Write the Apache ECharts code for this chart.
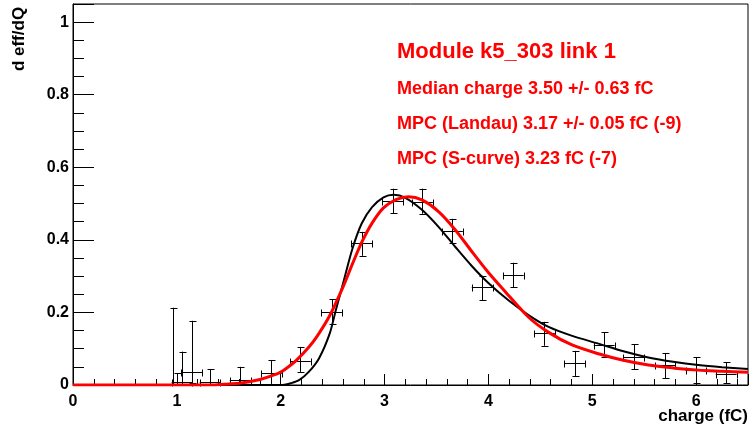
<!DOCTYPE html>
<html>
<head>
<meta charset="utf-8">
<script src="https://cdn.jsdelivr.net/npm/echarts@6/dist/echarts.min.js"></script>
<style>
html,body{margin:0;padding:0;background:#fff;}
#chart{width:751px;height:430px;}
</style>
</head>
<body>
<div id="chart"></div>
<script>
// ---- data ----
const xTickLabels = [0, 1, 2, 3, 4, 5, 6];
const yTickLabels = [0, 0.2, 0.4, 0.6, 0.8, 1];

// measured points (charge, d eff/dQ) with error bounds
const ptX    = [0.964, 1.003, 1.05, 1.144, 1.32, 1.61, 1.91, 2.19, 2.49, 2.78, 3.08, 3.365, 3.654, 3.94, 4.24, 4.54, 4.83, 5.115, 5.40, 5.70, 6.00, 6.29];
const ptXErr = [0, 0, 0.1, 0.1, 0.1, 0.1, 0.1, 0.1, 0.1, 0.1, 0.1, 0.1, 0.1, 0.1, 0.1, 0.1, 0.1, 0.1, 0.1, 0.1, 0.1, 0.1];
const ptY    = [0.003, 0.004, 0.008, 0.035, 0.009, 0.014, 0.034, 0.066, 0.200, 0.392, 0.508, 0.505, 0.425, 0.270, 0.303, 0.143, 0.060, 0.110, 0.077, 0.055, 0.041, 0.030];
const ptYLo  = [0, 0, 0, 0.005, 0, 0.003, 0.003, 0.036, 0.168, 0.356, 0.474, 0.472, 0.392, 0.234, 0.270, 0.108, 0.025, 0.077, 0.044, 0.019, 0.005, 0.005];
const ptYHi  = [0.213, 0.033, 0.092, 0.177, 0.044, 0.050, 0.069, 0.105, 0.237, 0.422, 0.541, 0.541, 0.458, 0.301, 0.337, 0.174, 0.094, 0.146, 0.113, 0.088, 0.077, 0.063];

// black fit curve
const blackX = [0, 1.9, 2.02, 2.1, 2.18, 2.27, 2.37, 2.47, 2.53, 2.61, 2.69, 2.78, 2.88, 2.99, 3.09, 3.2, 3.36, 3.52, 3.68, 3.84, 4.0, 4.19, 4.39, 4.58, 4.8, 5.06, 5.3, 5.54, 5.78, 6.02, 6.25, 6.5];
const blackY = [0, 0, 0, 0.005, 0.014, 0.036, 0.074, 0.14, 0.205, 0.29, 0.375, 0.445, 0.49, 0.517, 0.524, 0.516, 0.483, 0.436, 0.381, 0.328, 0.281, 0.234, 0.192, 0.16, 0.136, 0.114, 0.093, 0.076, 0.064, 0.055, 0.049, 0.044];

// red fit curve
const redX = [0, 1.35, 1.5, 1.6, 1.7, 1.8, 1.91, 1.99, 2.05, 2.15, 2.27, 2.35, 2.47, 2.6, 2.69, 2.78, 2.88, 2.99, 3.11, 3.23, 3.36, 3.52, 3.68, 3.84, 4.0, 4.16, 4.39, 4.58, 4.8, 5.06, 5.3, 5.54, 5.78, 6.02, 6.25, 6.5];
const redY = [0, 0, 0.003, 0.005, 0.009, 0.015, 0.025, 0.034, 0.045, 0.068, 0.104, 0.134, 0.19, 0.27, 0.333, 0.393, 0.446, 0.488, 0.511, 0.519, 0.51, 0.478, 0.428, 0.368, 0.31, 0.258, 0.186, 0.145, 0.111, 0.086, 0.068, 0.055, 0.047, 0.041, 0.038, 0.035];

const infoTitle = 'Module k5_303 link 1';
const infoLines = ['Median charge 3.50 +/- 0.63 fC', 'MPC (Landau) 3.17 +/- 0.05 fC (-9)', 'MPC (S-curve) 3.23 fC (-7)'];
const xName = 'charge (fC)';
const yName = 'd eff/dQ';

// ---- chart ----
const FONT = '"Liberation Sans", Arial, sans-serif';
const chart = echarts.init(document.getElementById('chart'), null, {renderer: 'canvas'});

const errData = ptX.map((x, i) => [x, ptY[i], ptXErr[i], ptYLo[i], ptYHi[i]]);
const blackData = blackX.map((x, i) => [x, blackY[i]]);
const redData = redX.map((x, i) => [x, redY[i]]);

const labelStyle = {color: '#000', fontFamily: FONT, fontWeight: 'bold', fontSize: 16};

const option = {
  animation: false,
  backgroundColor: '#fff',
  grid: {left: 73, right: 2, top: 4, bottom: 45, show: true, borderColor: '#000', borderWidth: 1, backgroundColor: '#fff'},
  xAxis: [
    {
      type: 'value', min: 0, max: 6.5, interval: 1, position: 'bottom',
      axisLine: {show: true, onZero: false, lineStyle: {color: '#000', width: 1}},
      axisTick: {show: true, inside: true, length: 11, lineStyle: {color: '#000', width: 1}},
      axisLabel: Object.assign({margin: 9, formatter: v => (xTickLabels.indexOf(Math.round(v)) >= 0 && Math.abs(v - Math.round(v)) < 1e-6) ? String(Math.round(v)) : ''}, labelStyle),
      splitLine: {show: false}
    },
    {
      type: 'value', min: 0, max: 6.5, interval: 0.2, position: 'bottom',
      axisLine: {show: false, onZero: false},
      axisTick: {show: true, inside: true, length: 6, lineStyle: {color: '#000', width: 1}},
      axisLabel: {show: false},
      splitLine: {show: false}
    }
  ],
  yAxis: [
    {
      type: 'value', min: 0, max: 1.05, interval: 0.2, position: 'left',
      axisLine: {show: true, onZero: false, lineStyle: {color: '#000', width: 1}},
      axisTick: {show: true, inside: true, length: 21, lineStyle: {color: '#000', width: 1}},
      axisLabel: Object.assign({margin: 4, formatter: v => {
        const r = Math.round(v * 10) / 10;
        return (Math.abs(v - r) < 1e-6 && yTickLabels.indexOf(r) >= 0) ? String(r) : '';
      }}, labelStyle),
      splitLine: {show: false}
    },
    {
      type: 'value', min: 0, max: 1.05, interval: 0.05, position: 'left',
      axisLine: {show: false, onZero: false},
      axisTick: {show: true, inside: true, length: 11, lineStyle: {color: '#000', width: 1}},
      axisLabel: {show: false},
      splitLine: {show: false}
    }
  ],
  series: [
    {
      type: 'custom', xAxisIndex: 0, yAxisIndex: 0, z: 2,
      encode: {x: 0, y: 1},
      data: errData,
      renderItem: function (params, api) {
        const x = api.value(0), y = api.value(1), xe = api.value(2), lo = api.value(3), hi = api.value(4);
        const px = v => Math.round(v) + 0.5;
        const c = api.coord([x, y]);
        const l = api.coord([x - xe, y]);
        const r = api.coord([x + xe, y]);
        const b = api.coord([x, lo]);
        const t = api.coord([x, hi]);
        const st = {stroke: '#000', lineWidth: 1};
        const cap = 3;
        const cx = px(c[0]), cy = px(c[1]);
        const children = [
          {type: 'line', shape: {x1: cx, y1: b[1], x2: cx, y2: t[1]}, style: st},
          {type: 'line', shape: {x1: cx - cap, y1: px(t[1]), x2: cx + cap + 1, y2: px(t[1])}, style: st},
          {type: 'line', shape: {x1: cx - cap, y1: px(b[1]), x2: cx + cap + 1, y2: px(b[1])}, style: st}
        ];
        if (xe > 0) {
          children.push({type: 'line', shape: {x1: l[0], y1: cy, x2: r[0], y2: cy}, style: st});
          children.push({type: 'line', shape: {x1: px(l[0]), y1: cy - cap, x2: px(l[0]), y2: cy + cap + 1}, style: st});
          children.push({type: 'line', shape: {x1: px(r[0]), y1: cy - cap, x2: px(r[0]), y2: cy + cap + 1}, style: st});
        }
        return {type: 'group', children: children};
      }
    },
    {
      type: 'line', xAxisIndex: 0, yAxisIndex: 0, z: 3,
      data: blackData, showSymbol: false, symbol: 'none',
      smooth: 0.3,
      lineStyle: {color: '#000', width: 2}
    },
    {
      type: 'line', xAxisIndex: 0, yAxisIndex: 0, z: 4,
      data: redData, showSymbol: false, symbol: 'none',
      smooth: 0.3,
      lineStyle: {color: '#ff0000', width: 3}
    }
  ],
  graphic: [
    {type: 'text', x: 397, y: 52, z: 10, style: {text: infoTitle, fill: '#ff0000', font: 'bold 22px ' + FONT, align: 'left', verticalAlign: 'middle', textAlign: 'left', textVerticalAlign: 'middle'}},
    {type: 'text', x: 397, y: 89, z: 10, style: {text: infoLines[0], fill: '#ff0000', font: 'bold 18px ' + FONT, align: 'left', verticalAlign: 'middle', textAlign: 'left', textVerticalAlign: 'middle'}},
    {type: 'text', x: 397, y: 124, z: 10, style: {text: infoLines[1], fill: '#ff0000', font: 'bold 18px ' + FONT, align: 'left', verticalAlign: 'middle', textAlign: 'left', textVerticalAlign: 'middle'}},
    {type: 'text', x: 397, y: 159, z: 10, style: {text: infoLines[2], fill: '#ff0000', font: 'bold 18px ' + FONT, align: 'left', verticalAlign: 'middle', textAlign: 'left', textVerticalAlign: 'middle'}},
    {type: 'text', x: 19, y: 39, rotation: Math.PI / 2, z: 10, style: {text: yName, fill: '#000', font: 'bold 17px ' + FONT, align: 'center', verticalAlign: 'middle', textAlign: 'center', textVerticalAlign: 'middle'}},
    {type: 'text', x: 748, y: 416, z: 10, style: {text: xName, fill: '#000', font: 'bold 17px ' + FONT, align: 'right', verticalAlign: 'middle', textAlign: 'right', textVerticalAlign: 'middle'}}
  ]
};
chart.setOption(option);
</script>
</body>
</html>
